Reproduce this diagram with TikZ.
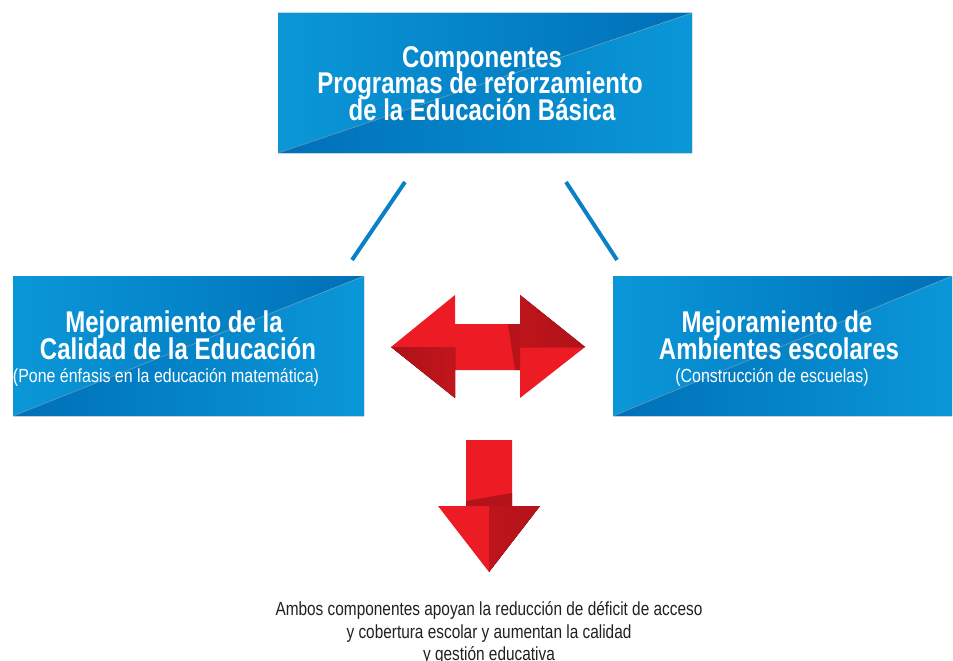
\documentclass[tikz,border=0pt]{standalone}
\usepackage{fontspec}
\setmainfont{Liberation Sans}
\newfontfamily\condH[FakeStretch=0.80]{Liberation Sans}
\newfontfamily\condS[FakeStretch=0.84]{Liberation Sans}
\newfontfamily\condF[FakeStretch=0.81]{Liberation Sans}
\definecolor{bL}{HTML}{0A97D8}
\definecolor{bD}{HTML}{0070B8}
\definecolor{lineblue}{HTML}{0A80C6}
\definecolor{rB}{HTML}{ED1C24}
\definecolor{rD}{HTML}{AF1219}
\definecolor{txt}{HTML}{231F20}
\tikzset{
  bluebox/.style={rectangle, inner sep=0pt, draw=none,
    path picture={
      \fill[left color=bL, right color=bD] (path picture bounding box.south west) -- (path picture bounding box.north west) -- (path picture bounding box.north east) -- cycle;
      \fill[left color=bD, right color=bL] (path picture bounding box.south west) -- (path picture bounding box.south east) -- (path picture bounding box.north east) -- cycle;
      \draw[white, opacity=0.4, line width=0.6pt] (path picture bounding box.south west) -- (path picture bounding box.north east);
    }},
  headtxt/.style={anchor=base, text=white, inner sep=0pt, font=\condH\bfseries\fontsize{30}{30}\selectfont},
  subtxt/.style={anchor=base, text=white, inner sep=0pt, font=\condS\fontsize{19}{19}\selectfont},
  foottxt/.style={anchor=base, text=txt, inner sep=0pt, font=\condF\fontsize{19}{19}\selectfont},
  link/.style={draw=lineblue, line width=4pt},
}
\begin{document}
\begin{tikzpicture}[x=1pt, y=-1pt]
\useasboundingbox (0,0) rectangle (953,661);
% boxes
\node[bluebox, minimum width=414pt, minimum height=140pt] (top) at (485,83) {};
\node[bluebox, minimum width=351pt, minimum height=140pt] (left) at (188.5,346) {};
\node[bluebox, minimum width=339pt, minimum height=140pt] (right) at (782.5,346) {};
% top text
\node[headtxt] (t1) at (482,67) {Componentes};
\node[headtxt] (t2) at (480,93.5) {Programas de reforzamiento};
\node[headtxt] (t3) at (482,120) {de la Educación Básica};
% left text
\node[headtxt] (l1) at (174,332) {Mejoramiento de la};
\node[headtxt] (l2) at (178,359.5) {Calidad de la Educación};
\node[subtxt] (l3) at (166,382) {(Pone énfasis en la educación matemática)};
% right text
\node[headtxt] (r1) at (777,332) {Mejoramiento de};
\node[headtxt] (r2) at (779,359.5) {Ambientes escolares};
\node[subtxt] (r3) at (772,382) {(Construcción de escuelas)};
% links
\coordinate (la) at (405,182);
\coordinate (lb) at (352,260);
\coordinate (ra) at (566,182);
\coordinate (rb) at (617,260);
\draw[link] (la) -- (lb);
\draw[link] (ra) -- (rb);
% double arrow
\fill[rB] (391,347) -- (455,295) -- (455,324) -- (520,324) -- (520,295) -- (585,347) -- (520,398) -- (520,370) -- (455,370) -- (455,398) -- cycle;
\fill[left color=rD, right color=rD!70!rB] (391,347) -- (455,347) -- (455,398) -- cycle;
\fill[left color=rD!75!rB, right color=rD] (520,295) -- (585,347) -- (520,347) -- cycle;
\fill[rD!85!rB] (508,324) -- (520,324) -- (520,370) -- (515,370) -- cycle;
% down arrow
\fill[rB] (466,440) -- (512,440) -- (512,506) -- (540,506) -- (489,572) -- (438,506) -- (466,506) -- cycle;
\fill[left color=rD!75!rB, right color=rD!90!rB] (489,506) -- (540,506) -- (489,572) -- cycle;
\fill[rD!90!rB] (466,501) -- (512,493) -- (512,506) -- (466,506) -- cycle;
% footer
\node[foottxt] (f1) at (489,615) {Ambos componentes apoyan la reducción de déficit de acceso};
\node[foottxt] (f2) at (489,638) {y cobertura escolar y aumentan la calidad};
\node[foottxt] (f3) at (489,660) {y gestión educativa};
\end{tikzpicture}
\end{document}
